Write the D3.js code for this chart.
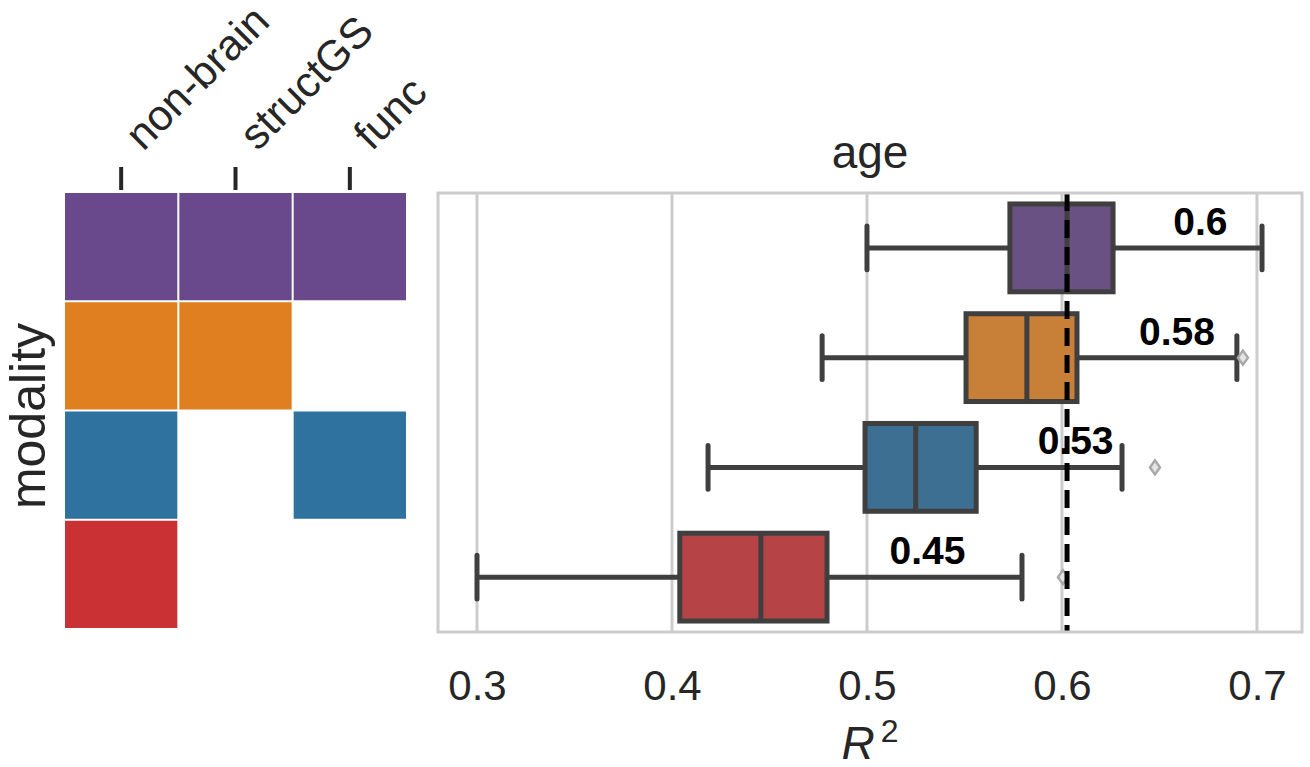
<!DOCTYPE html>
<html>
<head>
<meta charset="utf-8">
<script src="https://cdn.jsdelivr.net/npm/d3@7"></script>
<style>
  html, body { margin: 0; padding: 0; background: #ffffff; }
  svg { display: block; font-family: "Liberation Sans", Arial, sans-serif; }
</style>
</head>
<body>
<svg id="chart" width="1310" height="767"></svg>
<script>
// ---------------- data ----------------
const features = ["non-brain", "structGS", "func"];
const modalities = ["all", "non-brain+structGS", "non-brain+func", "non-brain"];
const membership = [
  [1, 1, 1],
  [1, 1, 0],
  [1, 0, 1],
  [1, 0, 0]
];
const rowColors = ["#6a488c", "#e07f20", "#2f72a0", "#c93135"];

const whiskerLow  = [0.500, 0.477, 0.4185, 0.300];
const q1          = [0.5733, 0.5508, 0.499, 0.404];
const medians     = [0.6026, 0.582, 0.525, 0.4456];
const q3          = [0.6262, 0.6077, 0.556, 0.4795];
const whiskerHigh = [0.7026, 0.6897, 0.6308, 0.5795];
const outliers    = [[], [0.6928], [0.6477], [0.6005]];

const medianLabels = ["0.6", "0.58", "0.53", "0.45"];
const labelX       = [0.671, 0.659, 0.607, 0.531];
const referenceLine = 0.6026;

const xTicks = [0.3, 0.4, 0.5, 0.6, 0.7];
const xDomain = [0.28, 0.7231];

// ---------------- layout ----------------
const svg = d3.select("#chart");
const textColor = "#262626";
const fontTick = 42, fontLabel = 46;

// Heatmap
const hm = { left: 64, right: 407, top: 192, bottom: 629 };
const hx = d3.scaleBand().domain(d3.range(features.length)).range([hm.left, hm.right]);
const hy = d3.scaleBand().domain(d3.range(modalities.length)).range([hm.top, hm.bottom]);

const gHm = svg.append("g");
membership.forEach((row, i) => {
  row.forEach((m, j) => {
    gHm.append("rect")
      .attr("x", hx(j) + 1)
      .attr("y", hy(i) + 1)
      .attr("width", hx.bandwidth() - 2)
      .attr("height", hy.bandwidth() - 2)
      .attr("fill", m ? rowColors[i] : "#ffffff");
  });
});

// top ticks
features.forEach((f, j) => {
  const cx = hx(j) + hx.bandwidth() / 2;
  gHm.append("line")
    .attr("x1", cx).attr("x2", cx)
    .attr("y1", 167).attr("y2", 190)
    .attr("stroke", "#262626").attr("stroke-width", 4);
  gHm.append("text")
    .attr("transform", `translate(${cx + 22},${152}) rotate(-45)`)
    .attr("text-anchor", "start")
    .attr("font-size", fontTick + 1)
    .attr("fill", textColor)
    .text(f);
});

// y label
svg.append("text")
  .attr("transform", `translate(${45},${416}) rotate(-90)`)
  .attr("text-anchor", "middle")
  .attr("font-size", 50)
  .attr("fill", textColor)
  .text("modality");

// Box plot panel
const pn = { left: 438, right: 1302, top: 193, bottom: 632 };
const x = d3.scaleLinear().domain(xDomain).range([pn.left, pn.right]);
const y = d3.scaleBand().domain(d3.range(modalities.length)).range([pn.top, pn.bottom]);
const boxH = y.bandwidth() * 0.8;

const g = svg.append("g");

// grid
g.selectAll("line.grid").data(xTicks).join("line")
  .attr("class", "grid")
  .attr("x1", d => x(d)).attr("x2", d => x(d))
  .attr("y1", pn.top).attr("y2", pn.bottom)
  .attr("stroke", "#cccccc").attr("stroke-width", 3);

// x axis tick labels via d3 axis
const xAxis = d3.axisBottom(x).tickValues(xTicks).tickFormat(d3.format(".1f")).tickSize(0).tickPadding(0);
const axG = svg.append("g").attr("transform", `translate(0,${pn.bottom})`).call(xAxis);
axG.select(".domain").remove();
axG.selectAll("text")
  .attr("font-size", fontTick)
  .attr("font-family", "Liberation Sans, Arial, sans-serif")
  .attr("fill", textColor)
  .attr("dy", null)
  .attr("y", 700 - pn.bottom);

const boxStroke = "#3f3f3f";
const lw = 5;
function desat(c) { const h = d3.hsl(c); h.s *= 0.75; return h.formatHex(); }

modalities.forEach((m, i) => {
  const cy = y(i) + y.bandwidth() / 2;
  // whiskers
  g.append("line").attr("x1", x(whiskerLow[i])).attr("x2", x(q1[i]))
    .attr("y1", cy).attr("y2", cy).attr("stroke", boxStroke).attr("stroke-width", lw);
  g.append("line").attr("x1", x(q3[i])).attr("x2", x(whiskerHigh[i]))
    .attr("y1", cy).attr("y2", cy).attr("stroke", boxStroke).attr("stroke-width", lw);
  // caps
  [whiskerLow[i], whiskerHigh[i]].forEach(v => {
    g.append("line").attr("x1", x(v)).attr("x2", x(v))
      .attr("y1", cy - boxH / 4).attr("y2", cy + boxH / 4)
      .attr("stroke", boxStroke).attr("stroke-width", lw).attr("stroke-linecap", "round");
  });
  // box
  g.append("rect")
    .attr("x", x(q1[i])).attr("y", cy - boxH / 2)
    .attr("width", x(q3[i]) - x(q1[i])).attr("height", boxH)
    .attr("fill", desat(rowColors[i]))
    .attr("stroke", boxStroke).attr("stroke-width", lw);
  // median
  g.append("line").attr("x1", x(medians[i])).attr("x2", x(medians[i]))
    .attr("y1", cy - boxH / 2).attr("y2", cy + boxH / 2)
    .attr("stroke", boxStroke).attr("stroke-width", lw);
  // outliers
  outliers[i].forEach(v => {
    const ox = x(v);
    g.append("path")
      .attr("d", `M${ox},${cy - 7} L${ox + 5},${cy} L${ox},${cy + 7} L${ox - 5},${cy} Z`)
      .attr("fill", "#e4e4e4").attr("stroke", "#a8a8a8").attr("stroke-width", 2.5);
  });
  // median label
  g.append("text")
    .attr("x", x(labelX[i])).attr("y", cy - 13)
    .attr("text-anchor", "middle")
    .attr("font-size", 39).attr("font-weight", "bold")
    .attr("fill", "#000000")
    .text(medianLabels[i]);
});

// dashed reference line
g.append("line")
  .attr("x1", x(referenceLine)).attr("x2", x(referenceLine))
  .attr("y1", pn.top).attr("y2", pn.bottom)
  .attr("stroke", "#000000").attr("stroke-width", 5)
  .attr("stroke-dasharray", "18,9");

// frame
g.append("rect")
  .attr("x", pn.left).attr("y", pn.top)
  .attr("width", pn.right - pn.left).attr("height", pn.bottom - pn.top)
  .attr("fill", "none").attr("stroke", "#cccccc").attr("stroke-width", 3);

// title
svg.append("text")
  .attr("x", (pn.left + pn.right) / 2).attr("y", 168)
  .attr("text-anchor", "middle")
  .attr("font-size", fontLabel).attr("fill", textColor)
  .text("age");

// x label R^2
const xl = svg.append("text")
  .attr("x", (pn.left + pn.right) / 2).attr("y", 759)
  .attr("text-anchor", "middle")
  .attr("font-size", fontLabel).attr("fill", textColor);
xl.append("tspan").attr("font-style", "italic").text("R");
xl.append("tspan").attr("font-size", 32).attr("dx", 6).attr("dy", -17).text("2");
</script>
</body>
</html>
